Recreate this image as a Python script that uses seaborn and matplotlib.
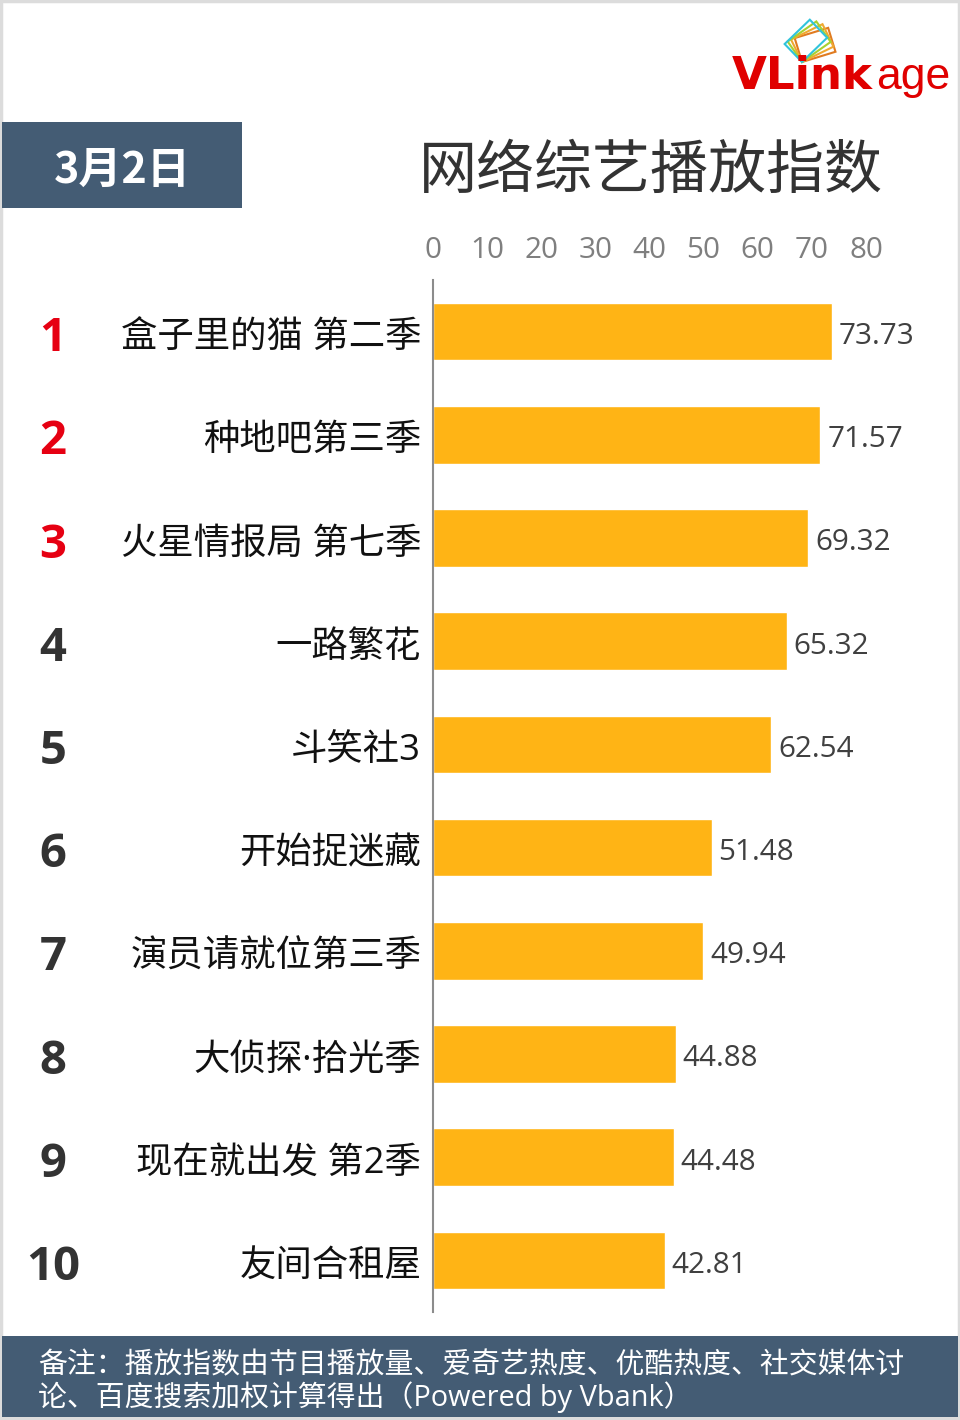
import matplotlib
matplotlib.use("Agg")
import matplotlib.pyplot as plt
import matplotlib.patches as patches
from matplotlib.transforms import Affine2D, ScaledTranslation
import pandas as pd
import seaborn as sns

# chart data
shows = ["盒子里的猫 第二季", "种地吧第三季", "火星情报局 第七季", "一路繁花", "斗笑社3",
         "开始捉迷藏", "演员请就位第三季", "大侦探·拾光季", "现在就出发 第2季", "友间合租屋"]
scores = [73.73, 71.57, 69.32, 65.32, 62.54, 51.48, 49.94, 44.88, 44.48, 42.81]
ranks = ["1", "2", "3", "4", "5", "6", "7", "8", "9", "10"]
xticks = [0, 10, 20, 30, 40, 50, 60, 70, 80]

title = "网络综艺播放指数"
date_label = "3月2日"
note = "备注：播放指数由节目播放量、爱奇艺热度、优酷热度、社交媒体讨\n论、百度搜索加权计算得出（Powered by Vbank）"

BAR = "#FFB415"
SLATE = "#445C74"
RED = "#E00000"
W, H = 960, 1420

sns.set_theme(style="white")
CJK = ["Noto Sans CJK SC", "DejaVu Sans"]
NUM = ["Open Sans", "Noto Sans CJK SC"]
plt.rcParams["font.family"] = CJK

df = pd.DataFrame({"show": shows, "score": scores})

fig = plt.figure(figsize=(W / 100, H / 100), dpi=100, facecolor="white")
ax = fig.add_axes([433 / W, 1 - 1312 / H, 433 / W, 1032 / H])

sns.barplot(data=df, x="score", y="show", color=BAR, saturation=1, width=0.56, ax=ax)
ax.set_xlim(0, 80)
ax.set_xlabel("")
ax.set_ylabel("")

# axis on top, no tick marks
ax.xaxis.tick_top()
ax.set_xticks(xticks)
ax.tick_params(axis="x", length=0, pad=10.5, labelsize=21.3, labelcolor="#7f7f7f")
for lab in ax.get_xticklabels():
    lab.set_family(NUM)

ax.tick_params(axis="y", length=0, pad=8.5, labelsize=26.2, labelcolor="#111111")
nudge = ScaledTranslation(0, -2 / 100, fig.dpi_scale_trans)
for lab in ax.get_yticklabels():
    lab.set_family(NUM)
    lab.set_transform(lab.get_transform() + nudge)

for side in ["top", "right", "bottom"]:
    ax.spines[side].set_visible(False)
ax.spines["left"].set_color("#8c8c8c")
ax.spines["left"].set_linewidth(1.5)

value_labels = ax.bar_label(ax.containers[0], fmt="%.2f", padding=5, fontsize=21.3, color="#404040", family=NUM)
for lab in value_labels:
    lab.xyann = (lab.xyann[0], lab.xyann[1] - 3.6)

# pixel overlay for header, footer, logo, ranks
over = fig.add_axes([0, 0, 1, 1], facecolor="none", zorder=5)
over.set_xlim(0, W)
over.set_ylim(H, 0)
over.axis("off")

for i, r in enumerate(ranks):
    col = "#E60012" if i < 3 else "#333333"
    over.text(53, 280 + 103.2 * (i + 0.5) + 7, r, color=col, fontsize=34, fontweight="bold",
              family=NUM, ha="center", va="center")

over.add_patch(patches.Rectangle((1, 1), W - 2, H - 3, fill=False, ec="#dcdcdc", lw=2.5))
over.add_patch(patches.Rectangle((2, 122), 240, 86, color=SLATE, lw=0))
over.add_patch(patches.Rectangle((2, 1336), W - 4, 81, color=SLATE, lw=0))

over.text(122, 170, date_label, color="white", fontsize=31, fontweight="bold", family=CJK, ha="center", va="center")
over.text(651, 172, title, color="#333333", fontsize=41.8, family=CJK, ha="center", va="center")
over.text(38, 1382, note, color="white", fontsize=20.75, family=NUM, ha="left", va="center", linespacing=1.06)

# logo: fan of cards around the bottom corner, cyan in front
for c, ang in [("#E07B20", 17), ("#F0A830", 26), ("#A8D030", 35), ("#30C4DC", 44)]:
    tr = Affine2D().rotate_deg_around(802, 62, -ang) + over.transData
    over.add_patch(patches.Rectangle((802, 62), 35, -25, fill=False, ec=c, lw=1.5, transform=tr))
over.text(732, 89, "VLink", color=RED, fontsize=32.5, fontweight="bold", family="DejaVu Sans", ha="left", va="baseline")
over.text(876, 89, "age", color=RED, fontsize=32, family="Liberation Sans", ha="left", va="baseline")

fig.savefig("out.png", dpi=100)
